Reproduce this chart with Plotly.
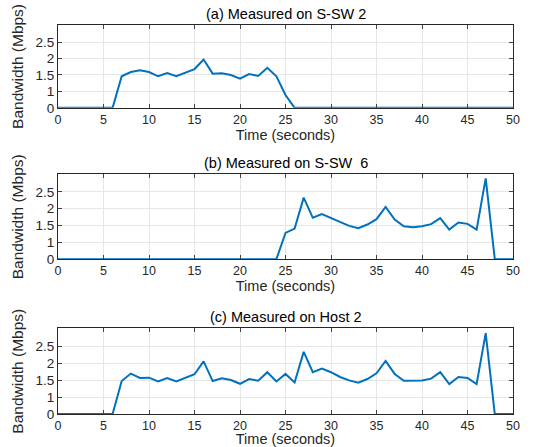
import plotly.graph_objects as go
from plotly.subplots import make_subplots

# time axis, one sample per second
t = list(range(0, 51))

# panel (a) S-SW 2 (values in axis units, y tick labels are relabelled below)
bw_ssw2 = [0, 0, 0, 0, 0, 0, 0, 0.96, 1.09, 1.14, 1.09, 0.96, 1.06, 0.96, 1.07, 1.18,
           1.47, 1.04, 1.05, 1.0, 0.89, 1.03, 0.97, 1.22, 0.96, 0.39, 0, 0, 0, 0.01,
           0, 0, 0, 0, 0, 0, 0, 0, 0, 0, 0, 0, 0, 0, 0, 0, 0, 0, 0, 0, 0]

# panel (b) S-SW 6
bw_ssw6 = [0] * 25 + [0.78, 0.91, 1.83, 1.23, 1.34, 1.22, 1.09, 0.99, 0.92, 1.03, 1.19,
                      1.55, 1.18, 0.98, 0.95, 0.98, 1.04, 1.22, 0.88, 1.09, 1.05, 0.88,
                      2.40, 0, 0, 0]

# panel (c) Host 2
bw_host2 = [0, 0, 0, 0, 0, 0, 0, 0.97, 1.19, 1.06, 1.07, 0.96, 1.06, 0.96, 1.07, 1.17,
            1.55, 0.97, 1.05, 1.0, 0.89, 1.03, 0.98, 1.23, 0.96, 1.18, 0.93, 1.83, 1.23,
            1.34, 1.23, 1.09, 0.99, 0.92, 1.03, 1.20, 1.56, 1.18, 0.98, 0.98, 0.99, 1.04,
            1.23, 0.88, 1.09, 1.06, 0.88, 2.38, 0, 0, 0]

titles = ["(a) Measured on S-SW 2", "(b) Measured on S-SW  6", "(c) Measured on Host 2"]
series = [bw_ssw2, bw_ssw6, bw_host2]

y_tickvals = [0, 0.5, 1, 1.5, 2]
y_ticktext = ["0", "1", "1.5", "2", "2.5"]
x_tickvals = list(range(0, 51, 5))

fig = make_subplots(rows=3, cols=1)

for i, s in enumerate(series):
    fig.add_trace(go.Scatter(x=t, y=s, mode="lines",
                             line=dict(color="#0072BD", width=2),
                             showlegend=False), row=i + 1, col=1)

domains = [[0.787, 1.0], [0.398, 0.616], [0.0, 0.220]]
font = "Liberation Sans, Arial, sans-serif"

for i in range(3):
    xa = "xaxis" if i == 0 else "xaxis%d" % (i + 1)
    ya = "yaxis" if i == 0 else "yaxis%d" % (i + 1)
    fig.layout[ya].domain = domains[i]
    fig.layout[xa].update(
        range=[0, 50], tickvals=x_tickvals, ticks="inside", ticklen=4,
        showline=True, linecolor="#262626", linewidth=1, mirror="ticks",
        showgrid=True, gridcolor="#e6e6e6", zeroline=False, automargin=False,
        tickfont=dict(size=12.5, color="#262626", family=font),
        title=dict(text="Time (seconds)", standoff=1,
                   font=dict(size=14.5, color="#262626", family=font)))
    fig.layout[ya].update(
        range=[0, 2.52], tickvals=y_tickvals, ticktext=y_ticktext,
        ticks="inside", ticklen=4,
        showline=True, linecolor="#262626", linewidth=1, mirror="ticks",
        showgrid=True, gridcolor="#e6e6e6", zeroline=False, automargin=False,
        tickfont=dict(size=13.5, color="#262626", family=font),
        title=dict(text="Bandwidth (Mbps)", standoff=8,
                   font=dict(size=15.5, color="#262626", family=font)))
    fig.add_annotation(text=titles[i], x=0.5, xref="paper",
                       y=domains[i][1], yref="paper", yanchor="bottom", yshift=1,
                       showarrow=False,
                       font=dict(size=14.5, color="black", family=font))

fig.update_layout(
    width=535, height=447,
    margin=dict(l=58, r=22, t=25, b=33),
    plot_bgcolor="white", paper_bgcolor="white",
)

# drop the default page margin so the figure sits at the window corner
fig.write_html("out.html", config={"displayModeBar": False},
               post_script="document.body.style.margin='0';")
